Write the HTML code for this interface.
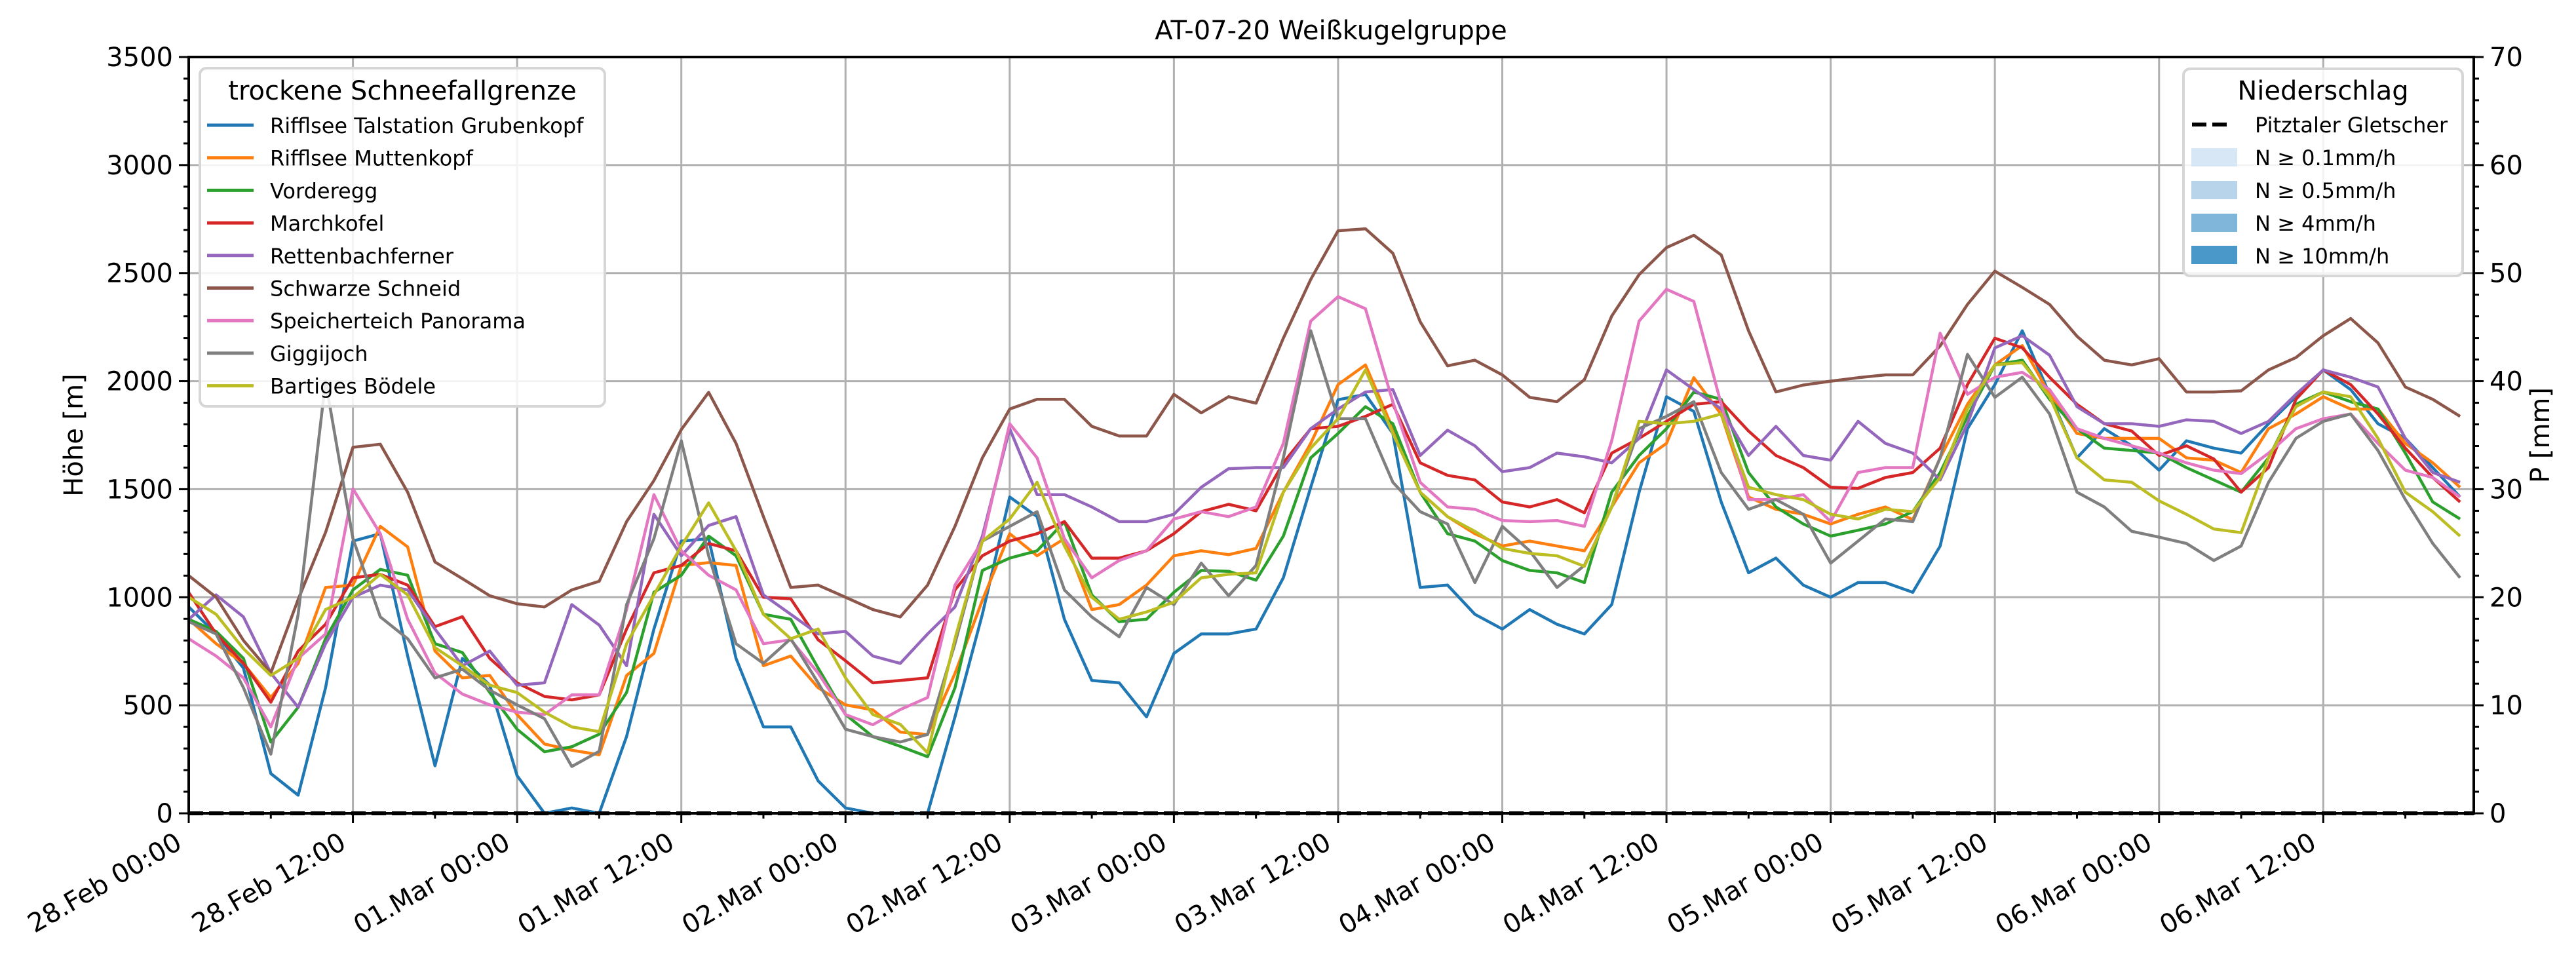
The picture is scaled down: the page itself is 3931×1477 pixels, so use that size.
<!DOCTYPE html>
<html><head><meta charset="utf-8"><title>AT-07-20 Weißkugelgruppe</title>
<style>html,body{margin:0;padding:0;background:#fff}svg{display:block;font-family:"DejaVu Sans","Liberation Sans",sans-serif}</style>
</head><body>
<svg id="chart" width="3931" height="1477" viewBox="0 0 3931 1477" xmlns="http://www.w3.org/2000/svg">
<rect x="0" y="0" width="3931" height="1477" fill="#fff"/>
<g id="grid"></g>
<g id="series"></g>
<g id="axes"></g>
<text x="2031" y="60" font-size="40" text-anchor="middle">AT-07-20 Weißkugelgruppe</text>
<text transform="translate(126,664) rotate(-90)" font-size="40" text-anchor="middle">Höhe [m]</text>
<text transform="translate(3890,664) rotate(-90)" font-size="40" text-anchor="middle">P [mm]</text>
<g id="legend-left">
<rect x="305" y="104" width="618" height="516" rx="10" fill="#fff" fill-opacity="0.85" stroke="#d6d6d6" stroke-width="4"/>
<text x="614" y="152" font-size="40" text-anchor="middle">trockene Schneefallgrenze</text>
</g>
<g id="legend-right">
<rect x="3332" y="105" width="426" height="316" rx="10" fill="#fff" fill-opacity="0.85" stroke="#d6d6d6" stroke-width="4"/>
<text x="3545" y="152" font-size="40" text-anchor="middle">Niederschlag</text>
<line x1="3345" y1="190" x2="3403" y2="190" stroke="#000" stroke-width="6" stroke-dasharray="22,9"/>
<text x="3441" y="202" font-size="32">Pitztaler Gletscher</text>
<rect x="3344" y="226" width="70" height="28" fill="#d8e7f5"/>
<text x="3441" y="252" font-size="32">N ≥ 0.1mm/h</text>
<rect x="3344" y="276" width="70" height="28" fill="#b7d4ea"/>
<text x="3441" y="302" font-size="32">N ≥ 0.5mm/h</text>
<rect x="3344" y="326" width="70" height="28" fill="#7fb6d9"/>
<text x="3441" y="352" font-size="32">N ≥ 4mm/h</text>
<rect x="3344" y="375" width="70" height="28" fill="#4a98c9"/>
<text x="3441" y="402" font-size="32">N ≥ 10mm/h</text>
</g>
</svg>
<script>
const hours = [];
for (let h = 0; h <= 166; h += 2) hours.push(h);
const names = ["Rifflsee Talstation Grubenkopf","Rifflsee Muttenkopf","Vorderegg","Marchkofel","Rettenbachferner","Schwarze Schneid","Speicherteich Panorama","Giggijoch","Bartiges Bödele"];
const colors = ["#1f77b4","#ff7f0e","#2ca02c","#d62728","#9467bd","#8c564b","#e377c2","#7f7f7f","#bcbd22"];
const sBlue = [955,830,672,184,84,581,1260,1294,728,220,717,593,174,0,25,0,356,853,1260,1271,717,400,400,150,25,0,0,0,446,921,1464,1373,898,615,604,446,740,830,830,853,1090,1509,1914,1939,1758,1045,1056,921,853,943,875,830,966,1486,1928,1860,1441,1113,1181,1056,1000,1068,1068,1023,1237,1780,1984,2233,1939,1645,1780,1701,1588,1724,1690,1667,1803,1928,2052,1961,1803,1735,1600,1464];
const sOrange = [898,785,694,536,694,1045,1056,1328,1233,751,627,638,457,321,292,271,638,740,1147,1160,1147,683,728,581,502,479,376,365,647,986,1294,1192,1271,943,966,1056,1192,1215,1197,1226,1486,1712,1984,2075,1780,1486,1373,1294,1237,1260,1237,1215,1418,1622,1712,2016,1846,1464,1407,1384,1339,1384,1418,1359,1645,1893,2075,2165,1939,1758,1735,1735,1735,1645,1634,1577,1780,1848,1928,1871,1871,1712,1622,1509];
const sGreen = [898,842,717,330,491,808,1034,1129,1102,785,744,559,389,285,308,366,559,1023,1102,1283,1192,921,898,672,457,355,310,262,581,1124,1181,1215,1350,1011,887,898,1023,1124,1120,1079,1283,1645,1758,1882,1803,1486,1294,1260,1170,1124,1113,1068,1486,1656,1780,1950,1916,1577,1418,1339,1283,1310,1339,1396,1577,1837,2075,2097,1916,1780,1690,1679,1667,1600,1543,1486,1645,1893,1950,1905,1871,1667,1441,1362];
const sRed = [1022,830,694,514,751,875,1090,1106,1056,864,910,717,604,541,525,548,853,1113,1147,1249,1215,1000,993,803,706,604,615,627,1034,1192,1260,1294,1350,1181,1181,1215,1294,1396,1430,1400,1622,1780,1791,1837,1893,1622,1564,1543,1441,1418,1452,1391,1667,1735,1814,1893,1905,1769,1656,1600,1509,1504,1554,1577,1690,1984,2199,2154,2018,1893,1803,1769,1656,1701,1640,1486,1600,1916,2052,1984,1848,1690,1554,1441];
const sPurple = [898,1011,909,649,491,785,1000,1056,1034,853,683,751,593,604,966,871,683,1384,1192,1332,1373,1011,921,830,842,728,694,830,955,1283,1780,1475,1475,1418,1350,1350,1384,1509,1595,1600,1600,1780,1871,1950,1961,1656,1773,1701,1581,1600,1667,1650,1622,1735,2052,1961,1871,1656,1791,1656,1634,1814,1712,1667,1543,1803,2154,2210,2120,1882,1803,1803,1791,1821,1814,1758,1814,1939,2052,2018,1973,1735,1577,1532];
const sBrown = [1100,1000,800,650,990,1300,1694,1708,1486,1163,1086,1007,970,955,1034,1074,1350,1540,1776,1948,1712,1373,1045,1056,1000,943,909,1056,1328,1645,1871,1916,1916,1791,1746,1746,1939,1853,1928,1898,2199,2471,2696,2705,2592,2275,2071,2097,2029,1925,1905,2007,2301,2493,2618,2675,2584,2233,1950,1982,2000,2016,2029,2029,2163,2355,2509,2434,2355,2208,2097,2075,2104,1950,1950,1955,2052,2109,2210,2290,2177,1973,1916,1837];
const sPink = [808,728,627,400,717,830,1502,1294,898,649,552,502,468,457,548,548,943,1475,1215,1102,1034,785,803,649,457,410,480,536,1056,1260,1803,1645,1271,1090,1170,1215,1362,1396,1373,1418,1712,2278,2391,2335,1904,1532,1418,1407,1355,1350,1355,1328,1724,2278,2425,2369,1893,1452,1452,1475,1350,1577,1600,1600,2222,1939,2018,2041,1961,1780,1735,1701,1667,1622,1588,1572,1667,1780,1826,1848,1712,1588,1554,1464];
const sGray = [887,830,581,274,921,2000,1271,909,808,627,667,570,502,438,217,287,966,1271,1724,1192,785,694,808,604,389,355,330,365,785,1260,1328,1396,1034,909,817,1045,966,1158,1007,1147,1645,2233,1826,1826,1532,1396,1339,1068,1328,1215,1045,1147,1418,1780,1837,1905,1577,1407,1452,1384,1158,1260,1362,1350,1645,2124,1925,2018,1848,1486,1418,1305,1278,1249,1170,1237,1532,1735,1814,1848,1679,1452,1249,1090];
const sOlive = [1000,921,762,638,717,943,1000,1106,1011,767,683,593,559,468,400,378,785,1011,1237,1437,1215,921,808,853,627,457,412,280,808,1260,1362,1532,1237,1000,898,932,977,1090,1106,1113,1486,1690,1826,2052,1758,1486,1373,1305,1226,1203,1192,1143,1418,1814,1803,1814,1848,1509,1475,1452,1384,1362,1407,1396,1554,1871,2075,2086,1928,1645,1543,1532,1446,1384,1316,1299,1645,1882,1950,1928,1735,1486,1396,1283];
const precip = hours.map(() => 0);
const xTickLabels = ["28.Feb 00:00","28.Feb 12:00","01.Mar 00:00","01.Mar 12:00","02.Mar 00:00","02.Mar 12:00","03.Mar 00:00","03.Mar 12:00","04.Mar 00:00","04.Mar 12:00","05.Mar 00:00","05.Mar 12:00","06.Mar 00:00","06.Mar 12:00"];
const yTicks = [0,500,1000,1500,2000,2500,3000,3500];
const y2Ticks = [0,10,20,30,40,50,60,70];

const NS = "http://www.w3.org/2000/svg";
const L = 288, R = 3775, T = 87, B = 1241, HMAX = 167;
const x = h => L + h * (R - L) / HMAX;
const y = v => B - v * (B - T) / 3500;
const y2 = v => B - v * (B - T) / 70;
function mk(tag, attrs, parent) {
  const e = document.createElementNS(NS, tag);
  for (const k in attrs) e.setAttribute(k, attrs[k]);
  parent.appendChild(e);
  return e;
}
const grid = document.getElementById('grid'), axes = document.getElementById('axes'), ser = document.getElementById('series');
xTickLabels.forEach((lab, i) => {
  const xx = x(i * 12);
  const g = mk('line', {x1: xx, x2: xx, y1: T, y2: B, stroke: '#b0b0b0', 'stroke-width': 3}, grid);
  
  
});
yTicks.forEach(v => {
  const g = mk('line', {x1: L, x2: R, y1: y(v), y2: y(v), stroke: '#b0b0b0', 'stroke-width': 3}, grid);
  
  
});
const series = [sBlue, sOrange, sGreen, sRed, sPurple, sBrown, sPink, sGray, sOlive];
series.forEach((s, k) => {
  const d = s.map((v, i) => (i ? 'L' : 'M') + x(hours[i]).toFixed(1) + ',' + y(v).toFixed(1)).join('');
  const p = mk('path', {d: d, fill: 'none', stroke: colors[k], 'stroke-width': 4.5, 'stroke-linejoin': 'round'}, ser);
  
  
});
const pd = precip.map((v, i) => (i ? 'L' : 'M') + x(hours[i]).toFixed(1) + ',' + y2(v).toFixed(1)).join('') + 'L' + x(HMAX) + ',' + y2(0);
const pl = mk('path', {d: pd, fill: 'none', stroke: '#000', 'stroke-width': 6, 'stroke-dasharray': '22,9'}, ser);



const frame = mk('rect', {x: L, y: T, width: R - L, height: B - T, fill: 'none', stroke: '#000', 'stroke-width': 4}, axes);


for (let v = 0; v <= 3500; v += 100) {
  const major = v % 500 === 0;
  const t = mk('line', {x1: L - (major ? 15 : 8), x2: L, y1: y(v), y2: y(v), stroke: '#000', 'stroke-width': 3}, axes);
  
  
}
yTicks.forEach(v => {
  const t = mk('text', {x: L - 24, y: y(v) + 14, 'font-size': 40, 'text-anchor': 'end'}, axes);
  t.textContent = v;
  
  
});
for (let v = 0; v <= 70; v += 2) {
  const major = v % 10 === 0;
  const t = mk('line', {x1: R, x2: R + (major ? 15 : 8), y1: y2(v), y2: y2(v), stroke: '#000', 'stroke-width': 3}, axes);
  
  
}
y2Ticks.forEach(v => {
  const t = mk('text', {x: R + 24, y: y2(v) + 14, 'font-size': 40}, axes);
  t.textContent = v;
  
  
});
for (let h = 0; h <= HMAX; h += 6) {
  const major = h % 12 === 0;
  const t = mk('line', {x1: x(h), x2: x(h), y1: B, y2: B + (major ? 15 : 8), stroke: '#000', 'stroke-width': 3}, axes);
  
  
}
xTickLabels.forEach((lab, i) => {
  const xx = x(i * 12) - 8, yy = B + 52;
  const t = mk('text', {x: xx, y: yy, 'font-size': 40, 'text-anchor': 'end', transform: 'rotate(-30 ' + xx + ' ' + yy + ')'}, axes);
  t.textContent = lab;
  
  
});
const lg = document.getElementById('legend-left');
names.forEach((n, k) => {
  const yy = 191 + k * 49.7;
  const ln = mk('line', {x1: 316, x2: 387, y1: yy, y2: yy, stroke: colors[k], 'stroke-width': 5}, lg);
  
  
  const t = mk('text', {x: 412, y: yy + 12, 'font-size': 32}, lg);
  t.textContent = n;
  
  
});
</script>
</body></html>
